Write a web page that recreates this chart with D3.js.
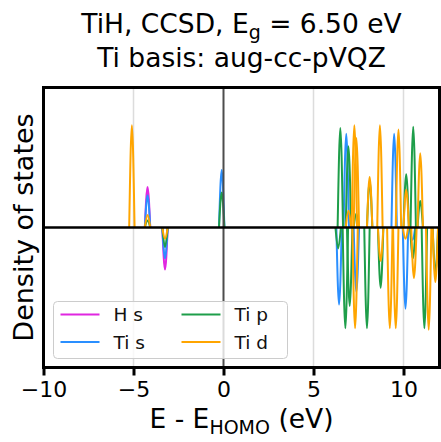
<!DOCTYPE html>
<html>
<head>
<meta charset="utf-8">
<script src="https://cdn.jsdelivr.net/npm/d3@7/dist/d3.min.js"></script>
<style>
  html, body { margin: 0; padding: 0; background: #fff; }
  svg { display: block; font-family: "DejaVu Sans", sans-serif; }
</style>
</head>
<body>
<svg id="chart" width="441" height="442"></svg>
<script>
// Projected density of states of TiH (CCSD). Each entry is [energy (eV), weight];
// positive weights are spin-up, negative weights are spin-down.
const energyTicks = [-10, -5, 0, 5, 10];
const tickLabels = ["\u221210", "\u22125", "0", "5", "10"];

const seriesNames = ["H s", "Ti s", "Ti p", "Ti d"];
const seriesColors = ["#e026e0", "#2a8fff", "#1e9e4a", "#ffa500"];

const peaksHs = [
  [-4.22, 0.29], [-3.25, -0.30]
];
const peaksTis = [
  [-4.22, 0.23], [-3.25, -0.22], [-0.10, 0.41],
  [6.82, 0.67], [9.48, 0.67],
  [6.42, -0.55], [7.38, -0.46], [10.11, -0.58], [10.50, -0.09]
];
const peaksTip = [
  [-4.22, 0.05], [-3.25, -0.14], [-0.10, 0.25],
  [6.49, 0.71], [6.94, 0.58], [7.38, 0.10], [8.12, 0.33], [10.15, 0.38],
  [10.54, 0.72], [10.93, 0.19],
  [6.37, -0.15], [6.77, -0.72], [7.01, -0.56], [7.97, -0.72], [8.73, -0.43],
  [10.52, -0.22], [11.16, -0.72], [11.77, -0.33]
];
const peaksTid = [
  [-5.09, 0.73], [-4.22, 0.09], [-3.25, -0.08],
  [6.94, 0.12], [7.27, 0.73], [7.38, 0.64], [8.12, 0.36], [8.69, 0.73],
  [9.72, 0.70], [10.15, 0.27], [10.93, 0.53],
  [7.31, -0.72], [8.73, -0.24], [9.24, -0.72], [9.57, -0.72], [10.11, -0.08],
  [10.58, -0.36], [11.40, -0.73], [11.77, -0.39]
];
const allPeaks = [peaksHs, peaksTis, peaksTip, peaksTid];

const svg = d3.select("#chart");
const plotLeft = 43.5, plotRight = 439.5, plotTop = 87.5, plotBottom = 367.5;

const x = d3.scaleLinear().domain([-10, 12]).range([plotLeft, plotRight]);
const y = d3.scaleLinear().domain([-1, 1]).range([plotBottom, plotTop]);

const plot = svg.append("g");

// vertical grid lines
plot.selectAll("line.grid")
  .data(energyTicks.filter(d => d !== 0 && d > -10))
  .join("line")
  .attr("class", "grid")
  .attr("x1", d => x(d)).attr("x2", d => x(d))
  .attr("y1", plotTop).attr("y2", plotBottom)
  .attr("stroke", "#dcdcdc").attr("stroke-width", 1.5);

// each level is drawn as a narrow peak rising from zero
const halfWidth = 0.15;
const peakLine = d3.line()
  .x(d => x(d[0])).y(d => y(d[1]))
  .curve(d3.curveMonotoneX);

allPeaks.forEach((peaks, i) => {
  plot.append("g")
    .selectAll("path")
    .data(peaks)
    .join("path")
    .attr("d", p => peakLine([[p[0] - halfWidth, 0], [p[0], p[1]], [p[0] + halfWidth, 0]]))
    .attr("fill", "none")
    .attr("stroke", seriesColors[i])
    .attr("stroke-width", 2)
    .attr("stroke-linejoin", "round");
});

// HOMO reference and zero line
plot.append("line")
  .attr("x1", x(0)).attr("x2", x(0))
  .attr("y1", plotTop).attr("y2", plotBottom)
  .attr("stroke", "#4d4d4d").attr("stroke-width", 2);
plot.append("line")
  .attr("x1", plotLeft).attr("x2", plotRight)
  .attr("y1", y(0)).attr("y2", y(0))
  .attr("stroke", "#000").attr("stroke-width", 2.5);

// legend
const legend = svg.append("g").attr("transform", "translate(53.5,301.5)");
legend.append("rect")
  .attr("width", 234).attr("height", 57).attr("rx", 4)
  .attr("fill", "#fff").attr("fill-opacity", 0.8)
  .attr("stroke", "#cccccc").attr("stroke-width", 1);
const legendPos = [[0, 0], [0, 1], [1, 0], [1, 1]];
seriesNames.forEach((name, i) => {
  const [col, row] = legendPos[i];
  const g = legend.append("g")
    .attr("transform", `translate(${7 + col * 121},${13 + row * 27.5})`);
  g.append("line")
    .attr("x1", 0).attr("x2", 39)
    .attr("stroke", seriesColors[i]).attr("stroke-width", 2);
  g.append("text")
    .attr("x", 53).attr("y", 6.5)
    .attr("font-size", 18.5).attr("fill", "#111")
    .text(name);
});

// frame
svg.append("rect")
  .attr("x", plotLeft).attr("y", plotTop)
  .attr("width", plotRight - plotLeft).attr("height", plotBottom - plotTop)
  .attr("fill", "none").attr("stroke", "#000").attr("stroke-width", 3);

// x axis
const xAxis = d3.axisBottom(x)
  .tickValues(energyTicks)
  .tickFormat((d, i) => tickLabels[i])
  .tickSize(8).tickSizeOuter(0).tickPadding(6);
const ax = svg.append("g")
  .attr("transform", `translate(0,${plotBottom})`)
  .call(xAxis);
ax.select(".domain").remove();
ax.selectAll(".tick line").attr("stroke", "#000").attr("stroke-width", 3);
ax.selectAll(".tick text")
  .attr("font-size", 22).attr("fill", "#000")
  .attr("font-family", "DejaVu Sans, sans-serif");

// axis labels
const xl = svg.append("text")
  .attr("x", (plotLeft + plotRight) / 2).attr("y", 428)
  .attr("text-anchor", "middle").attr("font-size", 26.5).attr("fill", "#000");
xl.append("tspan").text("E - E");
xl.append("tspan").attr("dy", 6).attr("font-size", 19).text("HOMO");
xl.append("tspan").attr("dy", -6).text(" (eV)");

svg.append("text")
  .attr("transform", `translate(33,${(plotTop + plotBottom) / 2}) rotate(-90)`)
  .attr("text-anchor", "middle").attr("font-size", 27).attr("fill", "#000")
  .text("Density of states");

// title
const t1 = svg.append("text")
  .attr("x", (plotLeft + plotRight) / 2).attr("y", 33)
  .attr("text-anchor", "middle").attr("font-size", 26.5).attr("fill", "#000");
t1.append("tspan").text("TiH, CCSD, E");
t1.append("tspan").attr("dy", 6).attr("font-size", 19).text("g");
t1.append("tspan").attr("dy", -6).text(" = 6.50 eV");
svg.append("text")
  .attr("x", (plotLeft + plotRight) / 2).attr("y", 67)
  .attr("text-anchor", "middle").attr("font-size", 26.5).attr("fill", "#000")
  .text("Ti basis: aug-cc-pVQZ");
</script>
</body>
</html>
